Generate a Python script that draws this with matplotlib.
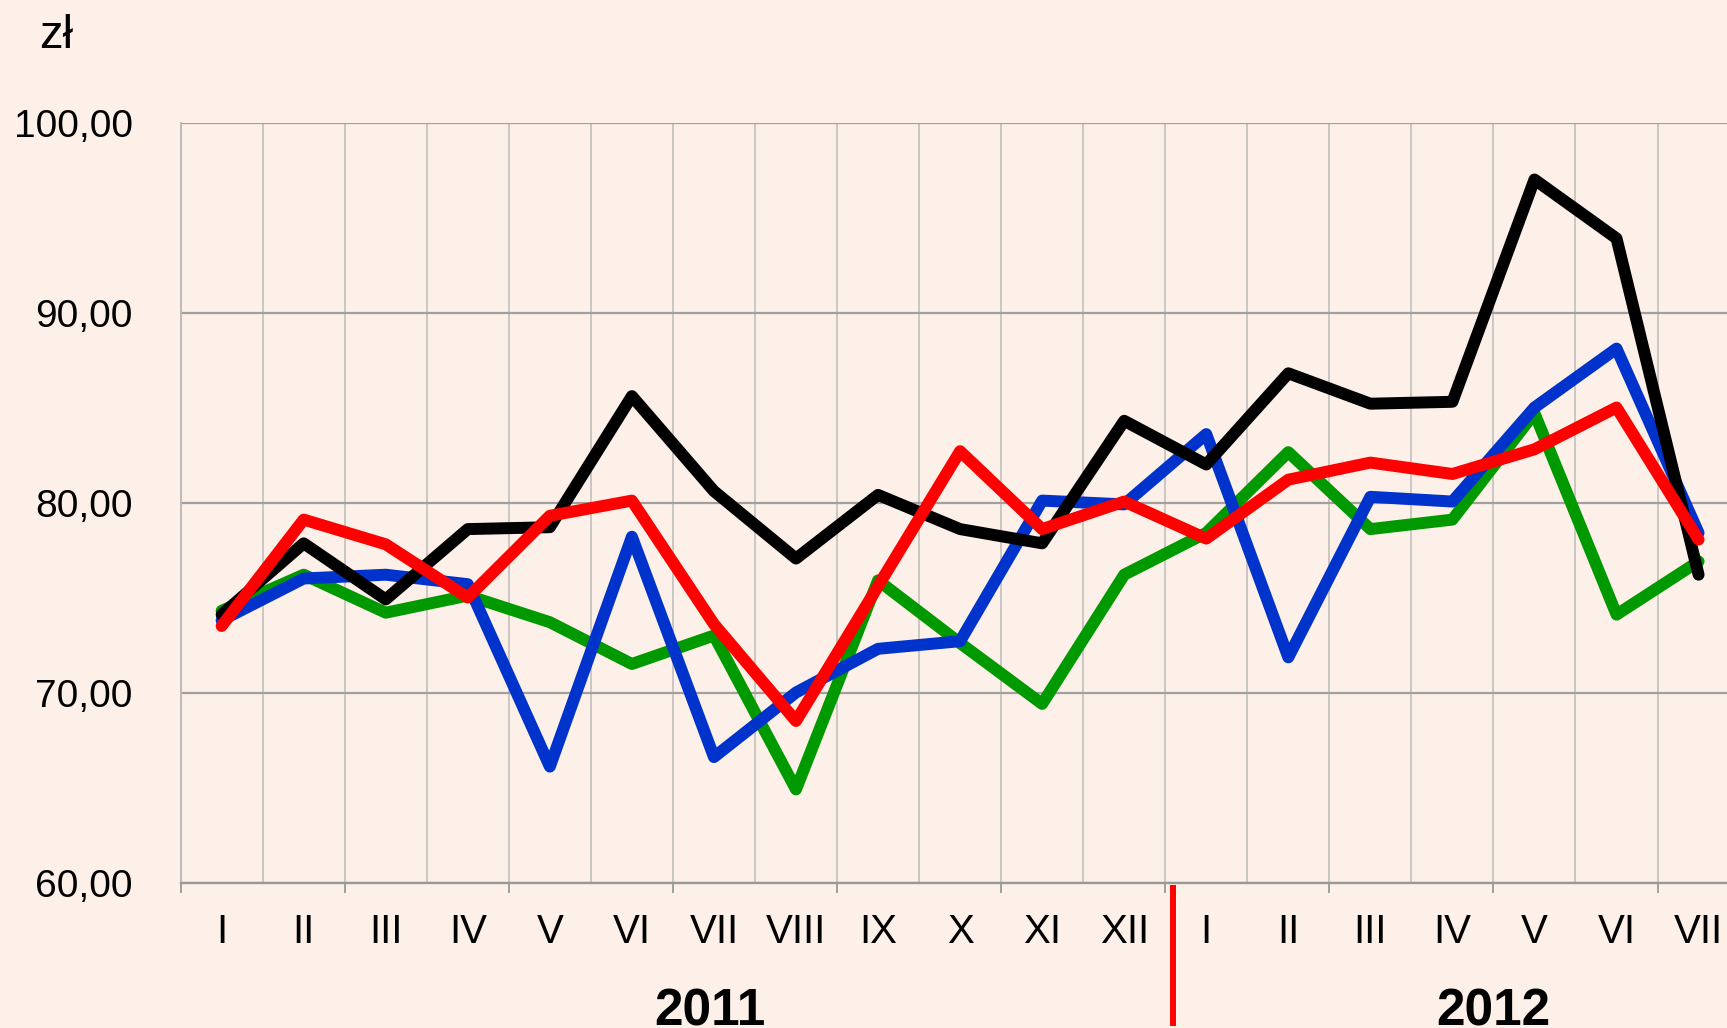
import matplotlib
matplotlib.use('Agg')
import matplotlib.pyplot as plt
from matplotlib.ticker import FixedLocator, FuncFormatter

# ---- data ----
months = ['I', 'II', 'III', 'IV', 'V', 'VI', 'VII', 'VIII', 'IX', 'X', 'XI', 'XII',
          'I', 'II', 'III', 'IV', 'V', 'VI', 'VII']
years = ['2011', '2012']
year_pos = [5.95, 15.5]
yticks = [60, 70, 80, 90, 100]

green = [74.3, 76.2, 74.2, 75.1, 73.7, 71.5, 73.0, 64.9, 75.9, 72.6, 69.4, 76.2,
         78.4, 82.65, 78.6, 79.1, 84.7, 74.1, 76.9]
blue = [73.8, 76.0, 76.2, 75.7, 66.1, 78.2, 66.6, 70.0, 72.3, 72.7, 80.1, 79.9,
        83.6, 71.85, 80.3, 80.05, 85.0, 88.1, 78.4]
black = [74.1, 77.85, 74.9, 78.6, 78.7, 85.6, 80.6, 77.05, 80.4, 78.6, 77.85, 84.3,
         82.0, 86.8, 85.2, 85.3, 97.0, 93.9, 76.2]
red = [73.5, 79.1, 77.8, 75.0, 79.3, 80.1, 73.6, 68.5, 75.6, 82.7, 78.6, 80.05,
       78.1, 81.2, 82.1, 81.5, 82.8, 85.0, 78.05]

series = [(green, '#009900'), (blue, '#0033CC'), (black, '#000000'), (red, '#FF0000')]

plt.rcParams['font.family'] = ['Liberation Sans', 'DejaVu Sans']

BG = '#FDF0E8'
W, H = 1727, 1028
fig = plt.figure(figsize=(W / 100, H / 100), dpi=100, facecolor=BG)
left_px, right_px, top_px, bot_px = 180.6, 1739.6, 122.5, 882.5
ax = fig.add_axes([left_px / W, 1 - bot_px / H, (right_px - left_px) / W, (bot_px - top_px) / H])
ax.set_facecolor(BG)

n = len(months)
x = list(range(n))
ax.set_xlim(-0.5, n - 0.5)
ax.set_ylim(yticks[0], yticks[-1])

# vertical gridlines at category boundaries
for k in range(n + 1):
    ax.axvline(k - 0.5, color='#BBBBBB', lw=1.1, zorder=0.5)

# horizontal gridlines
ax.set_yticks(yticks)
ax.yaxis.set_major_formatter(FuncFormatter(lambda v, p: f'{v:.2f}'.replace('.', ',')))
ax.yaxis.grid(True, color='#A0A0A0', lw=1.6, zorder=0.6)
ax.set_axisbelow(True)
ax.tick_params(axis='y', length=0, pad=34.5, labelsize=28, colors='black')

# x ticks: marks every 2 boundaries, labels at centers
ax.xaxis.set_major_locator(FixedLocator([k - 0.5 for k in range(0, n + 1, 2)]))
ax.xaxis.set_major_formatter(FuncFormatter(lambda v, p: ''))
ax.xaxis.set_minor_locator(FixedLocator(x))
ax.set_xticks(x, months, minor=True)
ax.tick_params(axis='x', which='major', length=7.2, width=1.3, color='#999999')
ax.tick_params(axis='x', which='minor', length=0, pad=22.3, labelsize=29)

for s in ['top', 'right']:
    ax.spines[s].set_visible(False)
ax.spines['bottom'].set_color('#999999')
ax.spines['bottom'].set_linewidth(1.7)
ax.spines['left'].set_color('#BBBBBB')
ax.spines['left'].set_linewidth(1.4)

for vals, col in series:
    ax.plot(x, vals, color=col, lw=8.6, solid_joinstyle='round', solid_capstyle='round', zorder=3)

# year separator
ax.axvline(11.595, ymin=-0.1845, ymax=-0.0072, color='#FF0000', lw=4.3, clip_on=False)

# year labels
tr = ax.get_xaxis_transform()
for yp, yl in zip(year_pos, years):
    ax.text(yp, -0.1875, yl, transform=tr, ha='center', va='baseline',
            fontsize=37, fontweight='bold', clip_on=False)

fig.text(39 / W, 1 - 48 / H, 'zł', ha='left', va='baseline', fontsize=34)

fig.savefig('out.png', dpi=100, facecolor=BG)
